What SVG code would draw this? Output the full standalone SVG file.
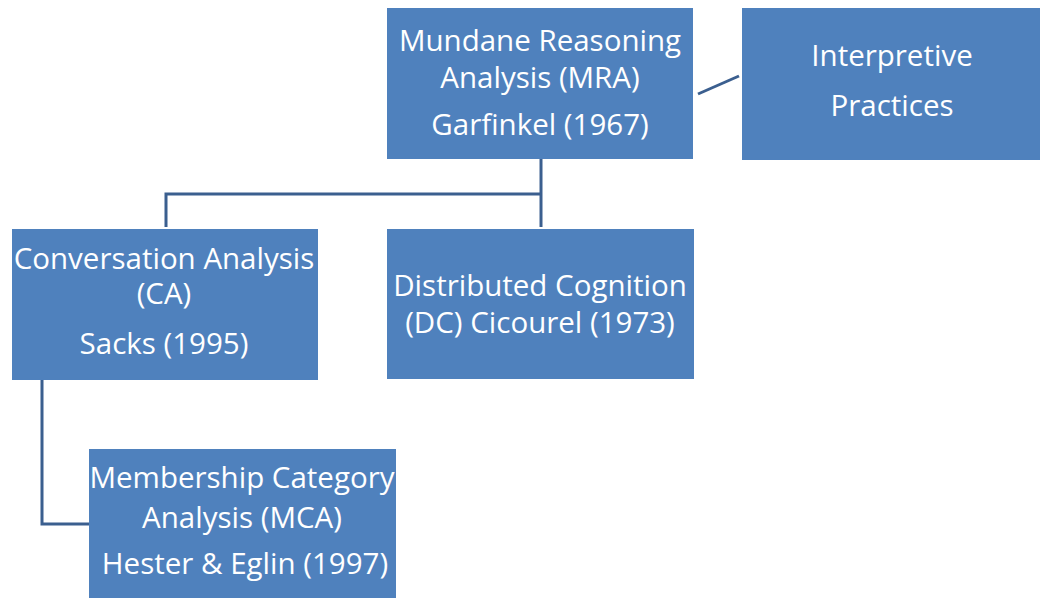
<svg xmlns="http://www.w3.org/2000/svg" width="1040" height="598" viewBox="0 0 1040 598">
<style>
.box{fill:#4f81bd;}
.t{fill:#ffffff;font-family:"Open Sans","Liberation Sans",sans-serif;font-size:29.5px;text-anchor:middle;}
.c{fill:none;stroke:#3b5f8f;stroke-width:3;}
</style>
<rect width="1040" height="598" fill="#ffffff"/>
<g id="connectors">
<polyline class="c" points="541,159 541,227"/>
<polyline class="c" points="166,227 166,194 541,194"/>
<polyline class="c" points="42,380 42,524 89,524"/>
<line class="c" x1="698" y1="94" x2="739" y2="76"/>
</g>
<g id="mra">
<rect class="box" x="387" y="8" width="306" height="151"/>
<text class="t" x="540" y="51">Mundane Reasoning</text>
<text class="t" x="540" y="88">Analysis (MRA)</text>
<text class="t" x="540" y="135">Garfinkel (1967)</text>
</g>
<g id="ip">
<rect class="box" x="742" y="8" width="298" height="152"/>
<text class="t" x="892" y="66">Interpretive</text>
<text class="t" x="892" y="116">Practices</text>
</g>
<g id="ca">
<rect class="box" x="12" y="229" width="306" height="151"/>
<text class="t" x="164" y="269">Conversation Analysis</text>
<text class="t" x="164" y="304">(CA)</text>
<text class="t" x="164" y="354">Sacks (1995)</text>
</g>
<g id="dc">
<rect class="box" x="387" y="229" width="307" height="150"/>
<text class="t" x="540" y="296">Distributed Cognition</text>
<text class="t" x="540" y="333">(DC) Cicourel (1973)</text>
</g>
<g id="mca">
<rect class="box" x="89" y="449" width="307" height="149"/>
<text class="t" x="242" y="488">Membership Category</text>
<text class="t" x="242" y="528">Analysis (MCA)</text>
<text class="t" x="245" y="574">Hester &amp; Eglin (1997)</text>
</g>
</svg>
